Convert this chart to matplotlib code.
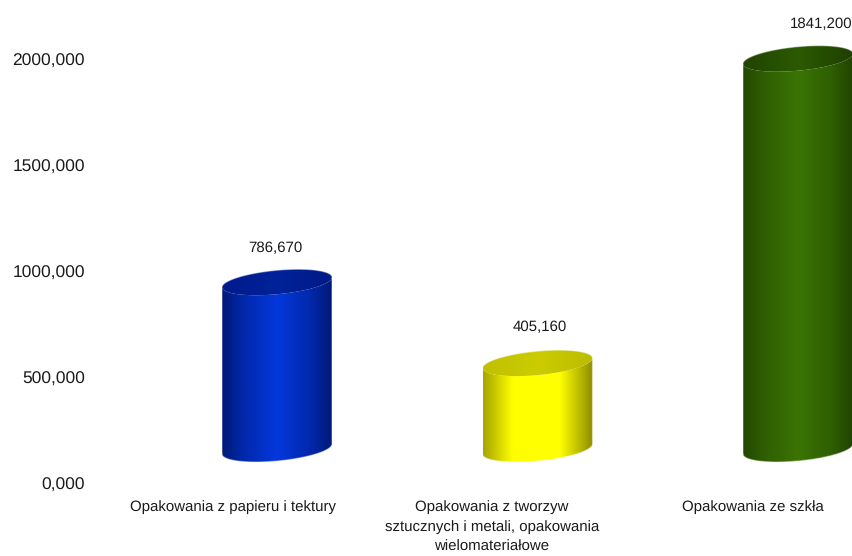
import numpy as np
import matplotlib
matplotlib.use("Agg")
import matplotlib.pyplot as plt
from matplotlib.colors import LinearSegmentedColormap
from matplotlib.patches import Polygon

plt.rcParams["font.family"] = ["Liberation Sans", "DejaVu Sans"]
plt.rcParams["text.hinting"] = "none"

kategorie = ["Opakowania z papieru i tektury",
             "Opakowania z tworzyw\nsztucznych i metali, opakowania\nwielomateriałowe",
             "Opakowania ze szkła"]
wartosci = [786.670, 405.160, 1841.200]
etykiety = ["786,670", "405,160", "1841,200"]
y_ticks = [0, 500, 1000, 1500, 2000]
y_labels = ["0,000", "500,000", "1000,000", "1500,000", "2000,000"]

# kolory: lewa krawedz, srodek, prawa krawedz
kolory_boku = [[(0, "#001a78"), (0.2, "#0229ac"), (0.5, "#0438dc"), (0.8, "#0229ac"), (1, "#001a78")],
               [(0, "#a4a400"), (0.27, "#ffff00"), (0.7, "#ffff00"), (1, "#8c8c00")],
               [(0, "#234800"), (0.2, "#2f5f02"), (0.5, "#3b7404"), (0.8, "#2f5f02"), (1, "#204400")]]
kolory_gory = [["#001a8c", "#00229a", "#001a86"],
               ["#c0c000", "#cccc00", "#bcbc00"],
               ["#1f4400", "#2c5a02", "#1e4000"]]
przesuniecie_x = [-2, 2, 23]  # etykiety, w pikselach
przesuniecie_y = [-2, 0, -2]

PX = 0.212       # piksele na jednostke
KROK = 260.5     # piksele miedzy slupkami
PODSTAWA = 165   # srodek dolnej elipsy
POL_SZER = 55 / KROK
RY = 12 / PX
SKOS = 5 / PX


def elipsa(x0, y0, t):
    return x0 + POL_SZER * np.cos(t), y0 + RY * np.sin(t) + SKOS * np.cos(t)


def gradient(ax, cmap, x0, y_min, y_max, clip):
    g = np.linspace(0, 1, 256).reshape(1, -1)
    im = ax.imshow(g, cmap=cmap, aspect="auto", interpolation="bilinear",
                   extent=[x0 - POL_SZER, x0 + POL_SZER, y_min, y_max], zorder=2)
    im.set_clip_path(clip)


def walec(ax, x0, wartosc, bok, gora):
    y_gora = PODSTAWA + wartosc
    t_dol = np.linspace(np.pi, 2 * np.pi, 80)
    t_gora = np.linspace(0, 2 * np.pi, 160)

    xd, yd = elipsa(x0, PODSTAWA, t_dol)
    xg, yg = elipsa(x0, y_gora, t_dol[::-1])
    cialo = Polygon(np.column_stack([np.r_[xd, xg], np.r_[yd, yg]]), closed=True,
                    transform=ax.transData, facecolor="none", edgecolor="none")
    ax.add_patch(cialo)
    gradient(ax, LinearSegmentedColormap.from_list("bok", bok), x0,
             PODSTAWA - 2 * RY, y_gora + 2 * RY, cialo)

    xe, ye = elipsa(x0, y_gora, t_gora)
    wierzch = Polygon(np.column_stack([xe, ye]), closed=True,
                      transform=ax.transData, facecolor="none", edgecolor="none")
    ax.add_patch(wierzch)
    gradient(ax, LinearSegmentedColormap.from_list("gora", gora), x0,
             y_gora - 2 * RY, y_gora + 2 * RY, wierzch)

    # miekka krawedz jak w oryginale: sam zewnetrzny obrys
    xo, yo = elipsa(x0, y_gora, np.linspace(0, np.pi, 80))
    ax.plot(np.r_[xd, xo, xd[0]], np.r_[yd, yo, yd[0]], color="white",
            lw=0.9, alpha=0.4, zorder=3)


fig = plt.figure(figsize=(8.52, 5.56), dpi=100)
ax = fig.add_axes([90 / 852, (556 - 484) / 556, 762 / 852, 484 / 556])

pozycje = [0, 1, 2]
for i in range(3):
    walec(ax, pozycje[i], wartosci[i], kolory_boku[i], kolory_gory[i])
    ax.text(pozycje[i] + przesuniecie_x[i] / KROK,
            wartosci[i] + 335 + przesuniecie_y[i] / PX, etykiety[i],
            ha="center", va="center", fontsize=10.8, color="#1a1a1a", zorder=4)

ax.set_xlim((90 - 277) / KROK, (852 - 277) / KROK)
ax.set_ylim(0, 484 / PX)
ax.set_yticks(y_ticks)
ax.set_yticklabels(y_labels, fontsize=12.5, color="#1a1a1a")
ax.set_xticks([-0.169, 0.825, 1.827])
ax.set_xticklabels(kategorie, fontsize=10.8, color="#1a1a1a", linespacing=1.55)
ax.tick_params(axis="both", length=0)
ax.tick_params(axis="y", pad=3.8)
ax.tick_params(axis="x", pad=11.5)
for s in ax.spines.values():
    s.set_visible(False)

fig.savefig("out.png", dpi=100)
